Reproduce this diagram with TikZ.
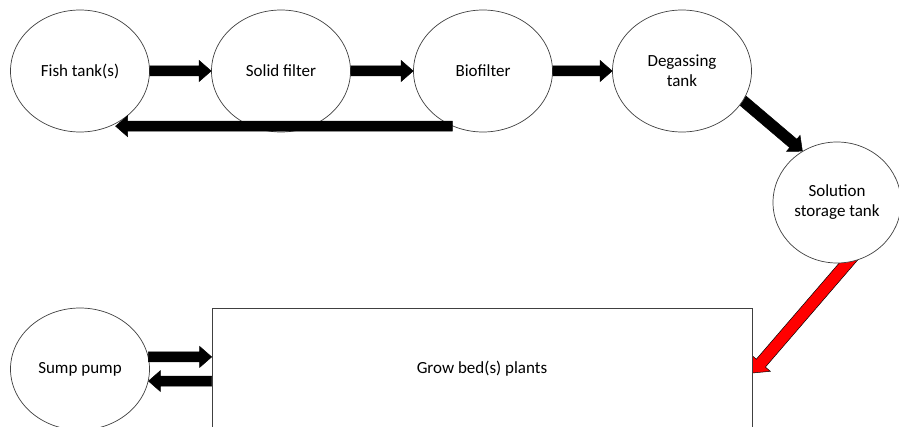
\documentclass[tikz,border=0pt]{standalone}
\usepackage{fontspec}
\setmainfont{Carlito}
\usetikzlibrary{shapes.geometric,calc}
\pgfdeclarelayer{back}
\pgfsetlayers{back,main}
% #1 fill, #2 shaft half width, #3 head half width, #4 head length, #5 start, #6 tip
\newcommand\blockarrowx[6]{%
  \coordinate (ba-c) at ($(#6)!#4!(#5)$);
  \filldraw[fill=#1, draw=black, line width=0.5pt, line join=miter]
    ($(#5)!#2!90:(#6)$) -- ($(ba-c)!#2!-90:(#5)$) -- ($(ba-c)!#3!-90:(#5)$)
    -- (#6) -- ($(ba-c)!#3!90:(#5)$) -- ($(ba-c)!#2!90:(#5)$)
    -- ($(#5)!#2!-90:(#6)$) -- cycle;
}
\newcommand\blockarrow[3]{\blockarrowx{#1}{5pt}{10.5pt}{12pt}{#2}{#3}}
\begin{document}
\begin{tikzpicture}[x=1pt,y=1pt,
  txt/.style={font=\fontsize{17}{20}\selectfont, text=black},
  tank/.style={txt, ellipse, draw=black!75, line width=0.7pt, fill=white,
    minimum width=139pt, minimum height=122pt, inner sep=0pt, align=center},
  bed/.style={txt, rectangle, draw=black!75, line width=0.7pt, fill=white,
    minimum width=540pt, minimum height=122pt, inner sep=0pt}]
\useasboundingbox (0,0) rectangle (899,426);
\node[tank] (fish)  at (80,355)  {Fish tank(s)};
\node[tank] (solid) at (281,355) {Solid filter};
\node[tank] (bio)   at (483,355) {Biofilter};
\node[tank] (degas) at (682,355) {Degassing\\tank};
\node[tank, minimum width=128pt, minimum height=121pt] (sol) at (837,223.5) {Solution\\storage tank};
\node[tank] (sump)  at (80,57)   {Sump pump};
\node[bed]  (grow)  at (482,57)  {Grow bed(s) plants};
% connectors
\blockarrow{black}{fish.east}{solid.west}
\blockarrow{black}{solid.east}{bio.west}
\blockarrow{black}{bio.east}{degas.west}
\coordinate (ret-s) at (bio.241);
\coordinate (ret-e) at (fish.304 |- ret-s);
\blockarrow{black}{ret-s}{ret-e}
\coordinate (dg-e) at (sol.124.5);
\coordinate (dg-s) at ($(degas.334)!-10pt!(dg-e)$);
\coordinate (red-e) at ($(grow.east)+(0,-4)$);
\coordinate (red-s) at ($(sol.280)!-10pt!(red-e)$);
\begin{pgfonlayer}{back}
  \blockarrowx{black}{5.5pt}{10.5pt}{12pt}{dg-s}{dg-e}
  \blockarrowx{red}{6pt}{12.5pt}{13pt}{red-s}{red-e}
\end{pgfonlayer}
\coordinate (sp-s) at (sump.10);
\coordinate (sp-e) at (grow.west |- sp-s);
\blockarrow{black}{sp-s}{sp-e}
\coordinate (sq-e) at (sump.350);
\coordinate (sq-s) at (grow.west |- sq-e);
\blockarrow{black}{sq-s}{sq-e}
\end{tikzpicture}
\end{document}
